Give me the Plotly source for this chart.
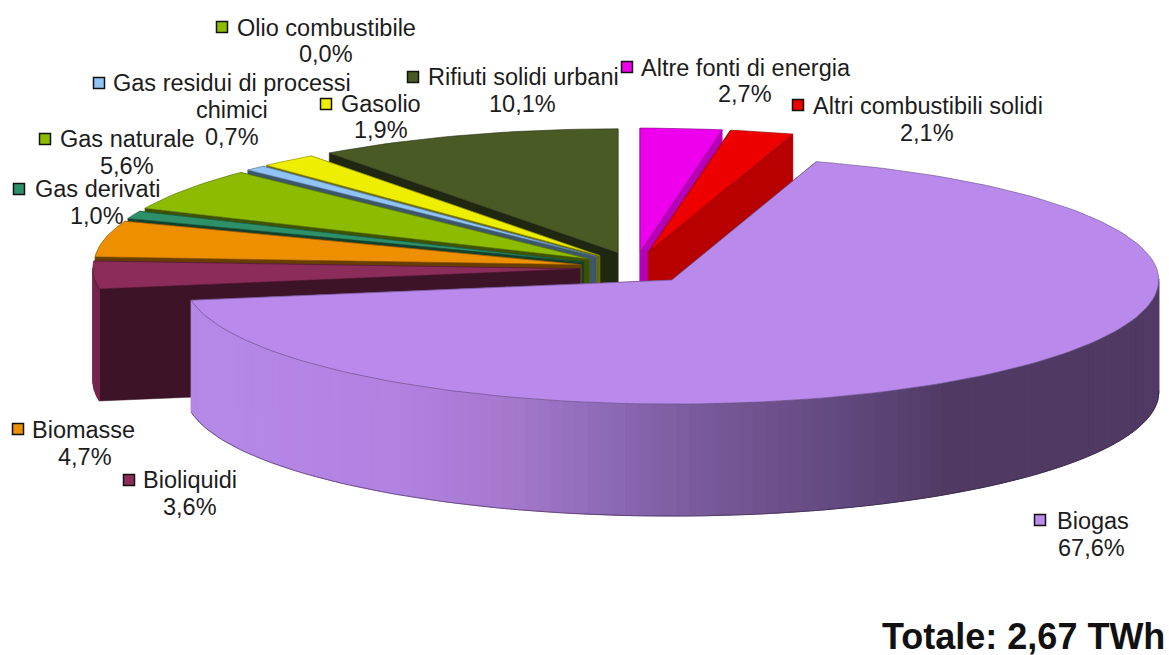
import math
import plotly.graph_objects as go

names = ["Altre fonti di energia", "Altri combustibili solidi", "Biogas", "Bioliquidi", "Biomasse",
         "Gas derivati", "Gas naturale", "Gas residui di processi<br>chimici", "Gasolio",
         "Olio combustibile", "Rifiuti solidi urbani"]
values = [2.7, 2.1, 67.6, 3.6, 4.7, 1.0, 5.6, 0.7, 1.9, 0.0, 10.1]
colors = ["#EE00EE", "#EE0000", "#B98AEC", "#8B2C5A", "#EE8F00",
          "#2D9068", "#8DBB00", "#8FC4F5", "#EEEE00", "#8DBB00", "#4A5A25"]
pct_text = ["2,7%", "2,1%", "67,6%", "3,6%", "4,7%", "1,0%", "5,6%", "0,7%", "1,9%", "0,0%", "10,1%"]

# projection of the pie
CX, CY = 635.3, 268.0
RX, RY = 487.0, 124.0
EX, EY = 55.5, 16.0
DEPTH = 112.0

# label placement: key x, key y, name left x, name y, pct x, pct y
label_pos = [
    (627, 67, 639, 68, 745, 94),
    (798, 105, 811, 106, 927, 133),
    (1040, 520, 1055, 521, 1091, 548),
    (129, 480, 141, 480, 190, 507),
    (18, 429, 30, 430, 85, 457),
    (19, 189, 33, 189, 97, 216),
    (45, 139, 58, 139, 127, 166),
    (99, 83, 111, 83, 232, 137),
    (326, 104, 339, 104, 381, 130),
    (222, 27, 235, 28, 326, 54),
    (413, 77, 426, 77, 522, 104),
]
wall_stops = [(192, (182, 137, 232)), (400, (178, 130, 225)), (513, (165, 120, 205)), (613, (140, 105, 180)),
              (700, (122, 90, 155)), (850, (97, 72, 125)), (950, (80, 58, 100)), (1160, (80, 58, 100))]


def shade(hex_col, f):
    r, g, b = int(hex_col[1:3], 16), int(hex_col[3:5], 16), int(hex_col[5:7], 16)
    return f"rgb({int(r*f)},{int(g*f)},{int(b*f)})"


def wall_colour(x):
    for (x0, c0), (x1, c1) in zip(wall_stops, wall_stops[1:]):
        if x <= x1:
            t = max(0, (x - x0) / (x1 - x0))
            return "rgb(%d,%d,%d)" % tuple(c0[i] + (c1[i] - c0[i]) * t for i in range(3))
    return "rgb(80,58,100)"


def apex(mid):
    return CX + EX * math.sin(mid), CY - EY * math.cos(mid)


def rim(ax, ay, t):
    return ax + RX * math.sin(t), ay - RY * math.cos(t)


def poly(fig, xs, ys, fill, line=None, width=0.7):
    fig.add_trace(go.Scatter(x=xs + xs[:1], y=ys + ys[:1], mode="lines", fill="toself", fillcolor=fill,
                             line=dict(color=line or fill, width=width), hoverinfo="skip", showlegend=False))


total = sum(values)
angles = []
acc = 0.0
for v in values:
    a = acc / total * 2 * math.pi
    acc += v
    angles.append((a, acc / total * 2 * math.pi))

fig = go.Figure()
order = sorted(range(len(values)), key=lambda i: -math.cos((angles[i][0] + angles[i][1]) / 2))
for i in order:
    if values[i] <= 0:
        continue
    a, b = angles[i]
    ax, ay = apex((a + b) / 2)
    col = colors[i]
    faces = sorted([(a, 0.44), (b, 0.78)], key=lambda p: -math.cos(p[0]))
    for t, f in faces:
        x, y = rim(ax, ay, t)
        poly(fig, [ax, x, x, ax], [ay, y, y + DEPTH, ay + DEPTH], shade(col, f), width=0.5)
    # outer wall, front-facing part only
    n = max(2, int((b - a) / math.radians(1.5)))
    ts = [a + (b - a) * k / n for k in range(n + 1)]
    low = []
    for t0, t1 in zip(ts, ts[1:]):
        if math.cos((t0 + t1) / 2) >= 0:
            continue
        x0, y0 = rim(ax, ay, t0)
        x1, y1 = rim(ax, ay, t1)
        c = wall_colour((x0 + x1) / 2) if i == 2 else shade(col, 0.85)
        poly(fig, [x0, x1, x1, x0], [y0, y1, y1 + DEPTH, y0 + DEPTH], c, width=1)
        low += [(x0, y0 + DEPTH), (x1, y1 + DEPTH)]
    if i == 2:
        fig.add_trace(go.Scatter(x=[p[0] for p in low], y=[p[1] for p in low], mode="lines", hoverinfo="skip",
                                 showlegend=False, line=dict(color="rgba(40,30,50,0.7)", width=0.7)))
    pts = [rim(ax, ay, t) for t in ts]
    poly(fig, [ax] + [p[0] for p in pts], [ay] + [p[1] for p in pts], col, line=shade(col, 0.55), width=0.6)

for i, (kx, ky, nx, ny, px, py) in enumerate(label_pos):
    fig.add_trace(go.Scatter(x=[kx], y=[ky], mode="markers", hoverinfo="skip", showlegend=False,
                             marker=dict(symbol="square", size=11, color=colors[i], line=dict(color="#111111", width=1.5))))
    first, *rest = names[i].split("<br>")
    fig.add_annotation(x=nx, y=ny, text=first, xanchor="left", yanchor="middle", showarrow=False)
    if rest:
        fig.add_annotation(x=px, y=py - 27, text=rest[0], xanchor="center", yanchor="middle", showarrow=False)
    fig.add_annotation(x=px, y=py, text=pct_text[i], xanchor="center", yanchor="middle", showarrow=False)

fig.add_annotation(x=1167, y=636, text="<b>Totale: 2,67 TWh</b>", xanchor="right", yanchor="middle",
                   showarrow=False, font=dict(size=36, color="#111111"))

fig.update_layout(
    width=1169, height=655, margin=dict(l=0, r=0, t=0, b=0), paper_bgcolor="white", plot_bgcolor="white",
    showlegend=False, font=dict(family="Liberation Sans", size=23.5, color="#1c1c1c"),
    xaxis=dict(range=[0, 1169], visible=False, fixedrange=True),
    yaxis=dict(range=[655, 0], visible=False, fixedrange=True),
)
fig.write_html("out.html", config=dict(displayModeBar=False),
               post_script="document.body.style.margin='0';document.documentElement.style.overflow='hidden';")
